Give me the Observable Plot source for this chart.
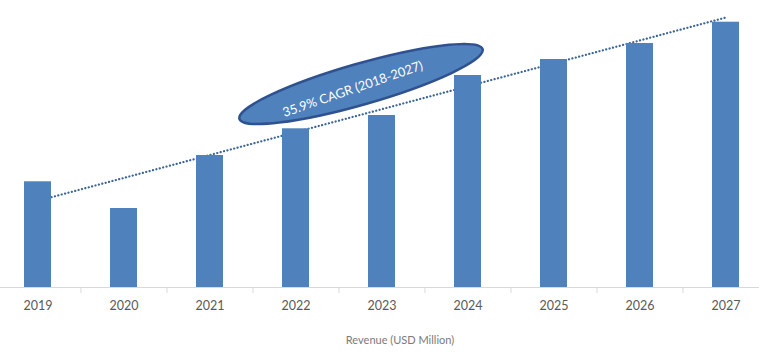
<!DOCTYPE html>
<html>
<head>
<meta charset="utf-8">
<script src="https://cdn.jsdelivr.net/npm/d3@7"></script>
<script src="https://cdn.jsdelivr.net/npm/@observablehq/plot@0.6"></script>
<style>
  html, body { margin: 0; padding: 0; background: #ffffff; }
  #chart svg { display: block; }
</style>
</head>
<body>
<div id="chart"></div>
<script>
// Data (relative units; no value axis shown)
const years = ["2019", "2020", "2021", "2022", "2023", "2024", "2025", "2026", "2027"];
const revenue = [105.7, 79, 132, 158.7, 172, 212, 228, 244, 265.3];
const trendYears = ["2019", "2027"];
const trendValues = [86.7, 270];
const cagrLabel = "35.9% CAGR (2018-2027)";
const xTitle = "Revenue (USD Million)";

const bars = years.map((y, i) => ({year: y, value: revenue[i]}));
const trend = trendYears.map((y, i) => ({year: y, value: trendValues[i]}));

const W = 759, H = 358;
const xRange = [-5.7, 768.8];
const step = (xRange[1] - xRange[0]) / years.length;

// same band layout as the Plot x scale, used to anchor the annotation bubble
const xBand = d3.scaleBand(years, xRange).paddingInner(0.686).paddingOuter(0.343);

function cagrBubble(index, scales) {
  const g = d3.create("svg:g");
  let cx = (xBand("2022") + xBand("2023")) / 2 + xBand.bandwidth() / 2 + 22.5;
  let cy = 287 - 203;
  if (scales && scales.y) {
    const v = scales.y(203);
    if (Number.isFinite(v)) cy = v;
  }
  g.append("ellipse")
    .attr("transform", `translate(${cx},${cy}) rotate(-16)`)
    .attr("rx", 126.5).attr("ry", 20.5)
    .attr("fill", "#4f81bd")
    .attr("stroke", "#2f528f")
    .attr("stroke-width", 2.5);
  g.append("text")
    .attr("transform", `translate(${cx - 8},${cy + 6}) rotate(-19)`)
    .attr("text-anchor", "middle")
    .attr("dominant-baseline", "middle")
    .attr("fill", "#ffffff")
    .attr("font-family", "Lato, 'Open Sans', sans-serif")
    .attr("font-size", 12.8)
    .text(cagrLabel);
  return g.node();
}

const chart = Plot.plot({
  width: W,
  height: H,
  marginTop: 0,
  marginLeft: 0,
  marginRight: 0,
  marginBottom: H - 287,
  style: {fontFamily: "Lato, 'Open Sans', sans-serif", background: "#ffffff"},
  x: {
    type: "band",
    domain: years,
    range: xRange,
    paddingInner: 0.686,
    paddingOuter: 0.343,
    axis: null
  },
  y: {domain: [0, 287], axis: null},
  marks: [
    Plot.ruleY([0], {stroke: "#d9d9d9", strokeWidth: 1}),
    Plot.ruleX(years, {x: d => d, dx: -step / 2, y1: 0, y2: -6, stroke: "#d9d9d9"}),
    Plot.lineY(trend, {
      x: "year", y: "value",
      stroke: "#3b6597", strokeWidth: 2.2,
      strokeDasharray: "0.1,3.4", strokeLinecap: "round"
    }),
    Plot.barY(bars, {x: "year", y: "value", fill: "#4f81bd"}),
    Plot.axisX({
      tickSize: 0, tickPadding: 14, fontSize: 12.5,
      color: "#595959", label: null
    }),
    Plot.text([xTitle], {
      frameAnchor: "bottom", lineAnchor: "middle", dx: 20, dy: 53,
      fontSize: 11, fill: "#7a7a7a"
    }),
    cagrBubble
  ]
});

document.getElementById("chart").appendChild(chart);
</script>
</body>
</html>
